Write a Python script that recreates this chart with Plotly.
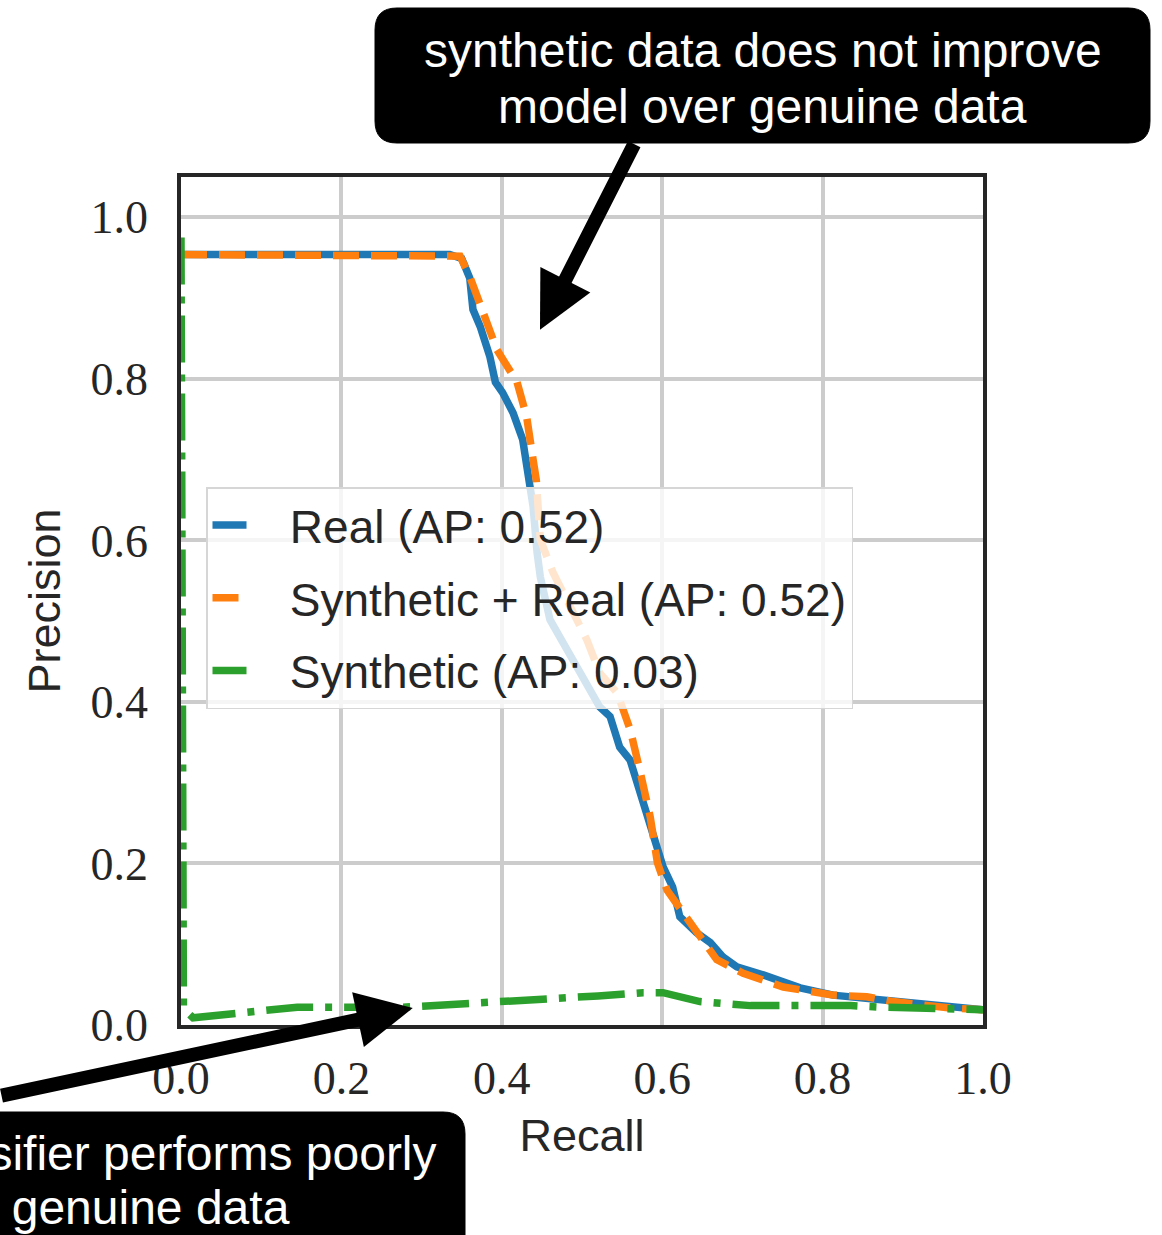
import plotly.graph_objects as go

# ---------------- data ----------------
real_recall = [0.0, 0.335, 0.350, 0.360, 0.364, 0.373, 0.385, 0.388, 0.392, 0.401, 0.414, 0.426,
               0.431, 0.435, 0.439, 0.444, 0.448, 0.460, 0.522, 0.535, 0.547, 0.560, 0.572, 0.585,
               0.601, 0.613, 0.622, 0.643, 0.660, 0.676, 0.693, 0.726, 0.772, 0.813, 0.875, 0.918, 1.0]
real_precision = [0.954, 0.954, 0.949, 0.925, 0.886, 0.865, 0.828, 0.808, 0.796, 0.783, 0.758, 0.725,
                  0.688, 0.675, 0.642, 0.585, 0.555, 0.502, 0.394, 0.382, 0.344, 0.328, 0.291, 0.245,
                  0.196, 0.171, 0.134, 0.114, 0.102, 0.084, 0.072, 0.062, 0.046, 0.037, 0.031, 0.025, 0.019]

synreal_recall = [0.0, 0.335, 0.348, 0.360, 0.377, 0.394, 0.419, 0.431, 0.439, 0.443, 0.448, 0.464,
                  0.506, 0.522, 0.544, 0.560, 0.572, 0.585, 0.594, 0.606, 0.626, 0.647, 0.668, 0.701,
                  0.751, 0.813, 0.855, 0.888, 0.959, 1.0]
synreal_precision = [0.954, 0.954, 0.952, 0.927, 0.882, 0.836, 0.796, 0.753, 0.700, 0.675, 0.601, 0.560,
                     0.477, 0.436, 0.411, 0.366, 0.316, 0.258, 0.201, 0.167, 0.139, 0.109, 0.081, 0.064,
                     0.047, 0.037, 0.035, 0.029, 0.021, 0.019]

syn_recall = [0.0, 0.003, 0.015, 0.07, 0.145, 0.277, 0.36, 0.444, 0.52, 0.576, 0.601, 0.647,
              0.71, 0.835, 0.875, 1.0]
syn_precision = [0.975, 0.02, 0.009, 0.015, 0.022, 0.022, 0.026, 0.031, 0.036, 0.040, 0.040, 0.029,
                 0.024, 0.024, 0.022, 0.019]

series_names = ["Real (AP: 0.52)", "Synthetic + Real (AP: 0.52)", "Synthetic (AP: 0.03)"]
tick_values = [0.0, 0.2, 0.4, 0.6, 0.8, 1.0]
tick_labels = ["0.0", "0.2", "0.4", "0.6", "0.8", "1.0"]

# ---------------- layout helpers ----------------
W, H = 1162, 1235
L, R, T, B = 181, 983, 177, 1025  # plot area in pixels


def px2paper_x(px):
    return (px - L) / (R - L)


def px2paper_y(py):
    return (B - py) / (B - T)


def rounded_rect(x0, y0, x1, y1, r):
    X = px2paper_x
    Y = px2paper_y
    return (f"M {X(x0 + r)},{Y(y0)} L {X(x1 - r)},{Y(y0)} Q {X(x1)},{Y(y0)} {X(x1)},{Y(y0 + r)} "
            f"L {X(x1)},{Y(y1 - r)} Q {X(x1)},{Y(y1)} {X(x1 - r)},{Y(y1)} "
            f"L {X(x0 + r)},{Y(y1)} Q {X(x0)},{Y(y1)} {X(x0)},{Y(y1 - r)} "
            f"L {X(x0)},{Y(y0 + r)} Q {X(x0)},{Y(y0)} {X(x0 + r)},{Y(y0)} Z")


pad = "\u00a0\u00a0\u00a0"  # gap between legend sample and label

fig = go.Figure()
fig.add_trace(go.Scatter(x=real_recall, y=real_precision, mode="lines", name=pad + series_names[0],
                         legendgroup="a", line=dict(color="#1f77b4", width=7.5)))
fig.add_trace(go.Scatter(x=synreal_recall, y=synreal_precision, mode="lines", name=pad + series_names[1],
                         legendgroup="b", line=dict(color="#ff7f0e", width=7.5, dash="26px,12px")))
fig.add_trace(go.Scatter(x=syn_recall, y=syn_precision, mode="lines", name=pad + series_names[2],
                         legendgroup="c", line=dict(color="#2ca02c", width=7.5, dash="47px,12px,7px,12px")))

axis_common = dict(
    showgrid=True, gridcolor="#cccccc", gridwidth=3.5,
    showline=True, mirror=True, linecolor="#262626", linewidth=3.5,
    zeroline=False, ticks="outside", tickcolor="rgba(0,0,0,0)",
    tickvals=tick_values, ticktext=tick_labels,
    tickfont=dict(family="Liberation Serif", size=46, color="#262626"),
)

fig.update_layout(
    width=W, height=H,
    margin=dict(l=L, r=W - R, t=T, b=H - B, pad=0),
    paper_bgcolor="white", plot_bgcolor="white",
    xaxis=dict(range=[0, 1], ticklen=10,
               title=dict(text="Recall", font=dict(family="Liberation Sans", size=45, color="#262626"),
                          standoff=18),
               **axis_common),
    yaxis=dict(range=[0, 1.05], ticklen=20,
               title=dict(text="Precision", font=dict(family="Liberation Sans", size=45, color="#262626"),
                          standoff=17),
               **axis_common),
    legend=dict(x=px2paper_x(206), y=px2paper_y(487), xanchor="left", yanchor="top",
                bgcolor="rgba(255,255,255,0.8)", bordercolor="#d6d6d6", borderwidth=1.5,
                font=dict(family="Liberation Sans", size=46, color="#262626"),
                traceorder="grouped", tracegroupgap=10, itemwidth=34),
    showlegend=True,
)

# rounded callout boxes
fig.add_shape(type="path", xref="paper", yref="paper", path=rounded_rect(375, 8, 1150, 143, 22),
              fillcolor="black", line=dict(color="black", width=1), layer="above")
fig.add_shape(type="path", xref="paper", yref="paper", path=rounded_rect(-60, 1112, 465, 1320, 22),
              fillcolor="black", line=dict(color="black", width=1), layer="above")

note_font = dict(family="Liberation Sans", size=48, color="white")
# top callout text
fig.add_annotation(xref="paper", yref="paper", x=px2paper_x(762.5), y=px2paper_y(51),
                   text="synthetic data does not improve", showarrow=False, font=note_font,
                   xanchor="center", yanchor="middle")
fig.add_annotation(xref="paper", yref="paper", x=px2paper_x(762.5), y=px2paper_y(106),
                   text="model over genuine data", showarrow=False, font=note_font,
                   xanchor="center", yanchor="middle")
# bottom callout text (partially outside the canvas on the left)
fig.add_annotation(xref="paper", yref="paper", x=px2paper_x(439), y=px2paper_y(1153),
                   text="The classifier performs poorly", showarrow=False, font=note_font,
                   xanchor="right", yanchor="middle")
fig.add_annotation(xref="paper", yref="paper", x=px2paper_x(292), y=px2paper_y(1207),
                   text="on genuine data", showarrow=False, font=note_font,
                   xanchor="right", yanchor="middle")

# arrows
fig.add_annotation(xref="x", yref="y", x=0.4476, y=0.861, ax=95, ay=-187, text="",
                   showarrow=True, arrowhead=2, arrowsize=0.8, arrowwidth=14, arrowcolor="black")
fig.add_annotation(xref="x", yref="y", x=0.289, y=0.021, ax=-513, ay=88, text="",
                   showarrow=True, arrowhead=2, arrowsize=0.8, arrowwidth=14, arrowcolor="black")

fig.write_html("out.html")
